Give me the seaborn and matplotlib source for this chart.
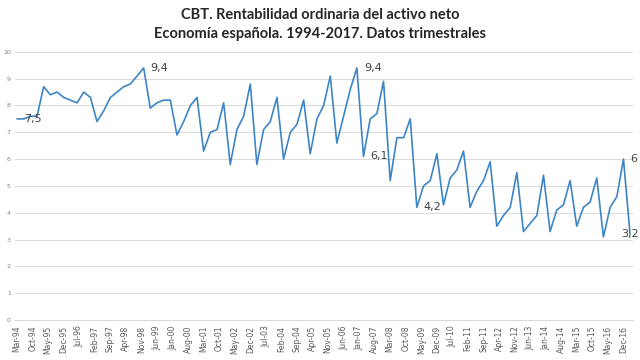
import pandas as pd
import seaborn as sns
import matplotlib.pyplot as plt

# rentabilidad ordinaria del activo neto, trimestral mar-94 .. mar-17
fechas = pd.date_range('1994-03-01', periods=93, freq='3MS')
rentabilidad = [
    7.5, 7.5, 7.6, 7.6, 8.7, 8.4, 8.5, 8.3, 8.2, 8.1,
    8.5, 8.3, 7.4, 7.8, 8.3, 8.5, 8.7, 8.8, 9.1, 9.4,
    7.9, 8.1, 8.2, 8.2, 6.9, 7.4, 8.0, 8.3, 6.3, 7.0,
    7.1, 8.1, 5.8, 7.1, 7.6, 8.8, 5.8, 7.1, 7.4, 8.3,
    6.0, 7.0, 7.3, 8.2, 6.2, 7.5, 8.0, 9.1, 6.6, 7.6,
    8.6, 9.4, 6.1, 7.5, 7.7, 8.9, 5.2, 6.8, 6.8, 7.5,
    4.2, 5.0, 5.2, 6.2, 4.3, 5.3, 5.6, 6.3, 4.2, 4.8,
    5.2, 5.9, 3.5, 3.9, 4.2, 5.5, 3.3, 3.6, 3.9, 5.4,
    3.3, 4.1, 4.3, 5.2, 3.5, 4.2, 4.4, 5.3, 3.1, 4.2,
    4.6, 6.0, 3.2,
]
# puntos con etiqueta de dato
etiquetados = [0, 19, 51, 52, 60, 91, 92]

df = pd.DataFrame({'fecha': fechas, 'rent': rentabilidad})

sns.set_style('white')
fig = plt.figure(figsize=(6.4, 3.6), dpi=100)
ax = fig.add_axes([0.0234, 0.111, 0.9656, 0.745])

sns.lineplot(data=df, x='fecha', y='rent', ax=ax, color='#3d85c6', linewidth=1.2)

ax.set_ylim(0, 10)
ax.set_yticks(range(11))
ax.yaxis.grid(True, color='#d9d9d9', linewidth=0.7)
ax.tick_params(axis='y', length=0, labelsize=4.5, labelcolor='#7f7f7f', pad=3)

ticks = pd.date_range('1994-03-01', '2016-12-31', freq='7MS')
ax.set_xticks(ticks)
ax.set_xticklabels([t.strftime('%b-%y') for t in ticks], rotation=90)
ax.tick_params(axis='x', length=3, color='#d9d9d9', labelsize=5.5,
               labelcolor='#595959', pad=1)
ax.set_xlim(pd.Timestamp('1994-02-01'), pd.Timestamp('2017-04-10'))

for s in ['top', 'right', 'left']:
    ax.spines[s].set_visible(False)
ax.spines['bottom'].set_color('#d9d9d9')
ax.set_xlabel('')
ax.set_ylabel('')

for i in etiquetados:
    txt = f'{rentabilidad[i]:g}'.replace('.', ',')
    if i == len(rentabilidad) - 1:
        ax.annotate(txt, (fechas[i], rentabilidad[i]), xytext=(0, 0),
                    textcoords='offset points', ha='center', va='center',
                    fontsize=8, color='#404040')
    else:
        ax.annotate(txt, (fechas[i], rentabilidad[i]), xytext=(5, 0),
                    textcoords='offset points', ha='left', va='center',
                    fontsize=8, color='#404040')

fig.text(0.5, 1 - 15 / 360, 'CBT. Rentabilidad ordinaria del activo neto',
         ha='center', va='center', fontsize=10.5, color='#262626',
         family='Lato', fontweight='bold')
fig.text(0.5, 1 - 34 / 360, 'Economía española. 1994-2017. Datos trimestrales',
         ha='center', va='center', fontsize=10.5, color='#262626',
         family='Lato', fontweight='bold')

fig.savefig('out.png', dpi=100)
